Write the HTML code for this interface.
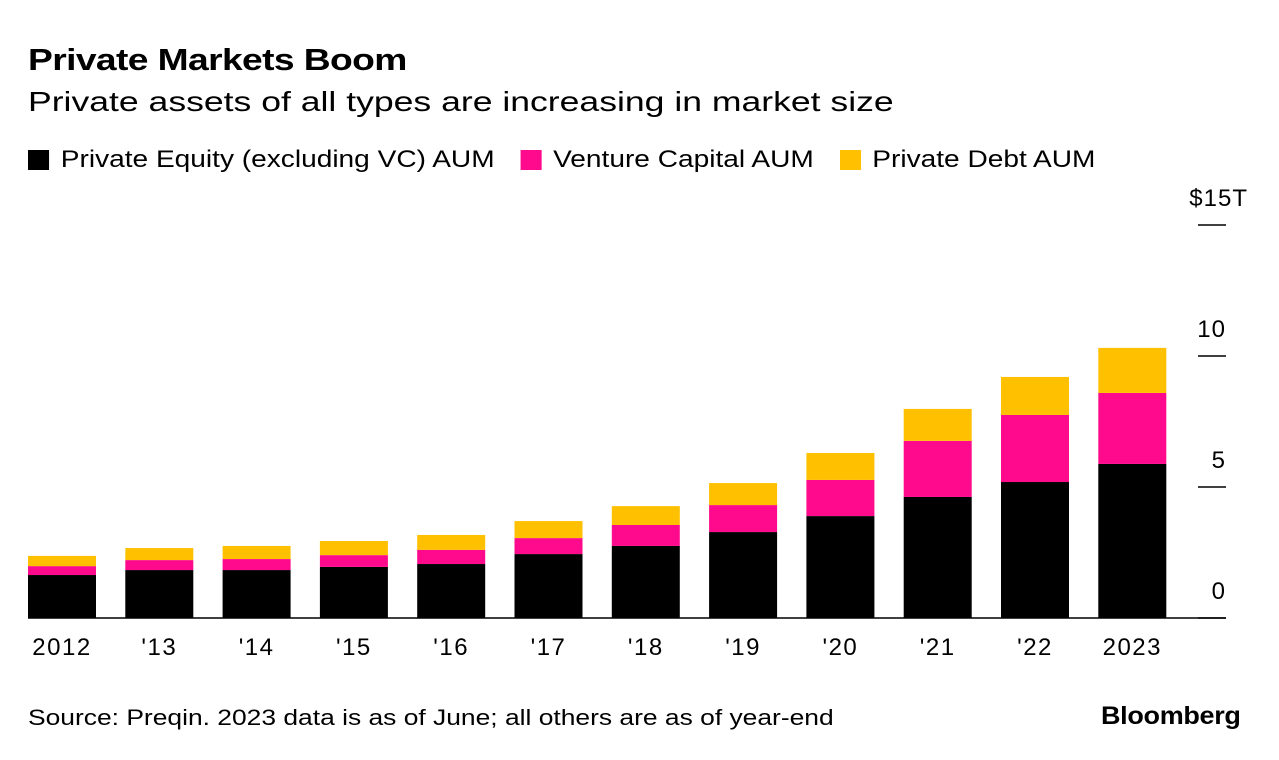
<!DOCTYPE html>
<html><head><meta charset="utf-8"><style>
body{margin:0;background:#fff;font-family:"Liberation Sans",sans-serif;width:1279px;height:760px;overflow:hidden;position:relative}
.t{position:absolute;white-space:nowrap;color:#000;transform-origin:left top}
</style></head><body>
<div class="t" style="left:28px;top:42px;font-size:31px;font-weight:bold;letter-spacing:-0.5px;transform:scaleX(1.2)">Private Markets Boom</div>
<div class="t" style="left:28px;top:86px;font-size:28px;transform:scaleX(1.27)">Private assets of all types are increasing in market size</div>
<div class="t" style="left:28px;top:146px;font-size:24px;display:flex;align-items:center;transform:scaleX(1.17)">
<span style="display:flex;align-items:center;margin-right:22px"><span style="width:18px;height:20px;background:#000;margin-right:10px;display:inline-block"></span>Private Equity (excluding VC) AUM</span>
<span style="display:flex;align-items:center;margin-right:22px"><span style="width:18px;height:20px;background:#ff0a8c;margin-right:10px;display:inline-block"></span>Venture Capital AUM</span>
<span style="display:flex;align-items:center"><span style="width:18px;height:20px;background:#ffc000;margin-right:10px;display:inline-block"></span>Private Debt AUM</span>
</div>
<svg id="chart" width="1279" height="760" style="position:absolute;left:0;top:0"></svg>
<div class="t" style="left:28px;top:705px;font-size:22px;transform:scaleX(1.2)">Source: Preqin. 2023 data is as of June; all others are as of year-end</div>
<div class="t" style="left:1101px;top:702px;font-size:25px;font-weight:bold;letter-spacing:-0.3px;transform:scaleX(1.08)">Bloomberg</div>
<script>
const categories=["2012","'13","'14","'15","'16","'17","'18","'19","'20","'21","'22","2023"];
const peValues=[1.64,1.83,1.83,1.95,2.06,2.44,2.75,3.28,3.89,4.62,5.19,5.88];
const vcValues=[0.34,0.38,0.42,0.45,0.54,0.61,0.80,1.03,1.38,2.14,2.56,2.71];
const pdValues=[0.39,0.46,0.50,0.54,0.57,0.65,0.72,0.84,1.03,1.22,1.45,1.72];
const yTicks=[0,5,10,15];
const yTickLabels=["0","5","10","$15T"];
const svg=document.getElementById('chart');
const NS='http://www.w3.org/2000/svg';
const y0=618,pxPer=26.2;
const y=v=>y0-v*pxPer;
const x=i=>28+i*97.3;
const bw=68;
function mk(tag,attrs){const e=document.createElementNS(NS,tag);for(const k in attrs)e.setAttribute(k,attrs[k]);svg.appendChild(e);return e;}
yTicks.forEach((t,i)=>{
  const l=mk('line',{x1:1198,x2:1226,y1:y(t),y2:y(t),stroke:'#000','stroke-width':1.5});
  
  
  const tx=mk('text',{x:i===3?1248:1226,y:y(t)-19,'text-anchor':'end','font-size':24,'letter-spacing':1,'font-family':'Liberation Sans, sans-serif'});
  tx.textContent=yTickLabels[i];
  
  
});
const series=[[peValues,'#000','pe'],[vcValues,'#ff0a8c','vc'],[pdValues,'#ffc000','pd']];
categories.forEach((c,i)=>{
  let base=0;
  series.forEach(([arr,col,nm])=>{
    const v=arr[i];
    const r=mk('rect',{x:x(i),y:y(base+v),width:bw,height:v*pxPer,fill:col});
    
    
    base+=v;
  });
  const tx=mk('text',{x:x(i)+bw/2,y:655,'text-anchor':'middle','font-size':24,'letter-spacing':1.5,'font-family':'Liberation Sans, sans-serif'});
  tx.textContent=c;
  
  
});
const ax=mk('line',{x1:28,x2:1226,y1:y0,y2:y0,stroke:'#000','stroke-width':1.5});


</script>
</body></html>
